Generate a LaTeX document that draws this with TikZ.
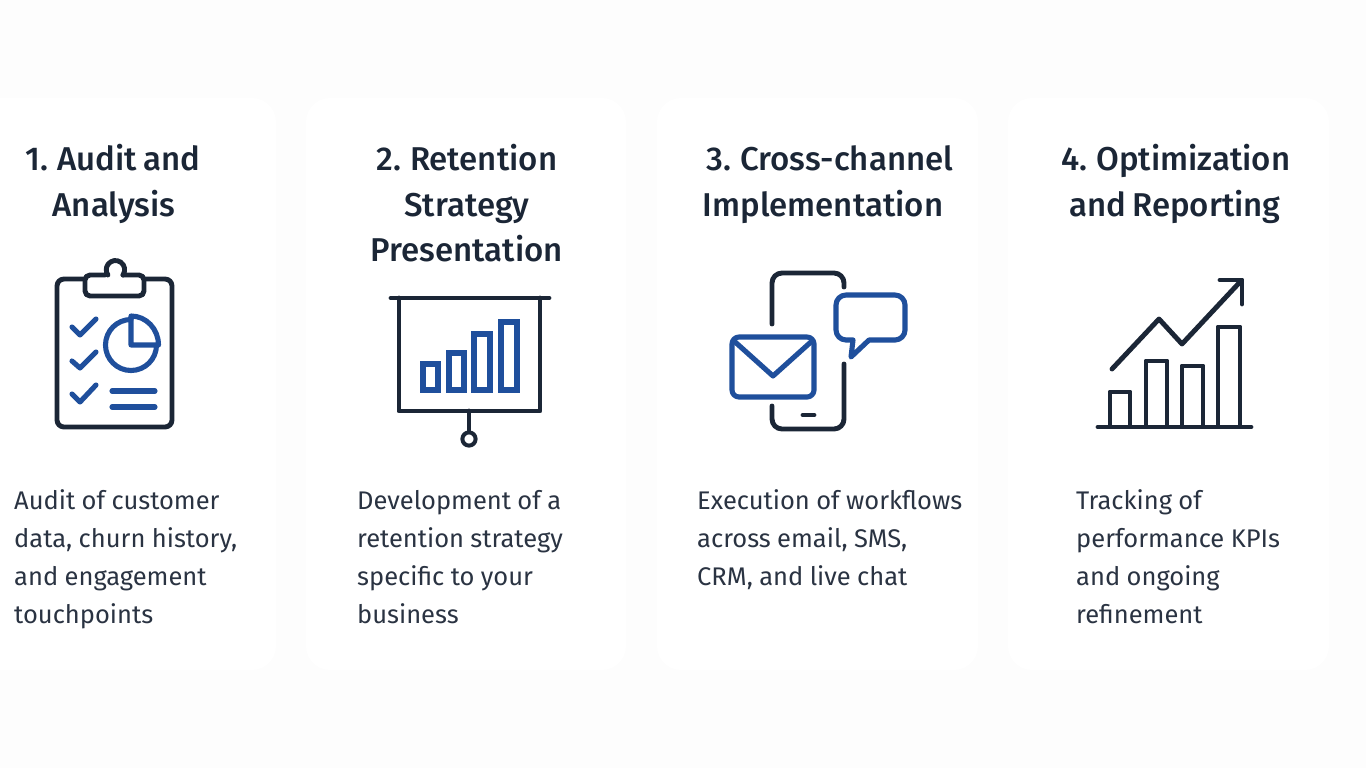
\documentclass[tikz,border=0pt]{standalone}
\usepackage{fontspec}
\setmainfont[WordSpace=0.95]{Fira Sans}
\newfontfamily\headfont[WordSpace=0.72]{Fira Sans Medium}
\definecolor{ink}{HTML}{1B2636}
\definecolor{blu}{HTML}{1F4F9C}
\definecolor{pagebg}{HTML}{FDFDFD}
\definecolor{bodytxt}{HTML}{2A3342}
\tikzset{
 card/.style={fill=white,rounded corners=24},
 head/.style={font=\headfont\fontsize{33}{45.5}\selectfont,text=ink,align=center,anchor=base,inner sep=0},
 bodyt/.style={font=\fontsize{25.5}{38.2}\selectfont,text=bodytxt,align=left,anchor=base west,inner sep=0},
 dk/.style={draw=ink,line width=4.9,line cap=round,line join=round},
 bl/.style={draw=blu,line width=5.1,line cap=round,line join=round},
}
\begin{document}
\begin{tikzpicture}[x=1pt,y=-1pt]
\useasboundingbox (0,0) rectangle (1366,768);
\fill[pagebg] (0,0) rectangle (1366,768);
\begin{scope}
\clip (0,0) rectangle (1366,768);
\fill[card] (-45,98) rectangle (276,670);
\fill[card] (306,98) rectangle (626,670);
\fill[card] (657,98) rectangle (978,670);
\fill[card] (1008,98) rectangle (1329,670);
\end{scope}
% headings
\node[head] (h1a) at (113,170) {1. Audit and};
\node[head] (h1b) at (114,216) {Analysis};
\node[head] (h2a) at (467,170) {2. Retention};
\node[head] (h2b) at (467,216) {Strategy};
\node[head] (h2c) at (467,261) {Presentation};
\node[head] (h3a) at (830,170) {3. Cross-channel};
\node[head] (h3b) at (823,216) {Implementation};
\node[head] (h4a) at (1176,170) {4. Optimization};
\node[head] (h4b) at (1175,216) {and Reporting};
% body
\node[bodyt] (b1a) at (14,509) {Audit of customer};
\node[bodyt] (b1b) at (14,547) {data, churn history,};
\node[bodyt] (b1c) at (14,585) {and engagement};
\node[bodyt] (b1d) at (14,623) {touchpoints};
\node[bodyt] (b2a) at (357,509) {Development of a};
\node[bodyt] (b2b) at (357,547) {retention strategy};
\node[bodyt] (b2c) at (357,585) {specific to your};
\node[bodyt] (b2d) at (357,623) {business};
\node[bodyt] (b3a) at (697,509) {Execution of workflows};
\node[bodyt] (b3b) at (697,547) {across email, SMS,};
\node[bodyt] (b3c) at (697,585) {CRM, and live chat};
\node[bodyt] (b4a) at (1076,509) {Tracking of};
\node[bodyt] (b4b) at (1076,547) {performance KPIs};
\node[bodyt] (b4c) at (1076,585) {and ongoing};
\node[bodyt] (b4d) at (1076,623) {refinement};
% clipboard
\draw[dk,rounded corners=7] (84,279) -- (57,279) -- (57,427) -- (172,427) -- (172,279) -- (144,279);
\draw[dk,rounded corners=5] (105,275) -- (85,275) -- (85,296) -- (144,296) -- (144,275) -- (123,275);
\draw[dk] (123,275) arc (35:-215:9.2);
\draw[bl] (72,327) -- (80,335) -- (96,319);
\draw[bl] (72,361) -- (80,368) -- (96,352);
\draw[bl] (72,394) -- (80,402) -- (96,385);
\draw[bl] (131,319.5) arc (-90:-360:25.5);
\draw[bl] (131,316) arc (-90:0:27.5 and 29) -- (131,345) -- cycle;
\draw[bl] (112,391) -- (155,391);
\draw[bl] (112,407) -- (155,407);
% presentation
\draw[dk] (391,298) -- (549,298);
\draw[dk] (399,298) -- (399,411) -- (540,411) -- (540,298);
\draw[dk] (469,411) -- (469,431);
\draw[dk,line width=4] (469,439) circle (6.6);
\draw[bl,line join=miter] (423,364) rectangle (438,390);
\draw[bl,line join=miter] (449,353) rectangle (464,390);
\draw[bl,line join=miter] (474,334) rectangle (490,390);
\draw[bl,line join=miter] (501,322) rectangle (517,390);
% phone
\draw[dk,rounded corners=10] (772,324) -- (772,273) -- (844,273) -- (844,287);
\draw[dk,rounded corners=10] (844,364) -- (844,429) -- (772,429) -- (772,406);
\draw[dk] (803,415) -- (814,415);
\draw[bl,rounded corners=7] (732,337) rectangle (814,397);
\draw[bl] (734,341) -- (773,376) -- (812,341);
\draw[bl] (853,340) [rounded corners=10] -- (836,340) -- (836,295) -- (905,295) -- (905,340) [rounded corners=0] -- (869,340) -- (851,357) -- (853,340);
% growth
\draw[dk] (1098,427) -- (1251,427);
\draw[dk,line cap=butt] (1110,427) -- (1110,392) -- (1130,392) -- (1130,427);
\draw[dk,line cap=butt] (1146,427) -- (1146,361) -- (1167,361) -- (1167,427);
\draw[dk,line cap=butt] (1182,427) -- (1182,366) -- (1203,366) -- (1203,427);
\draw[dk,line cap=butt] (1218,427) -- (1218,327) -- (1240,327) -- (1240,427);
\draw[dk] (1112,369) -- (1159,319) -- (1182,344) -- (1240,282);
\draw[dk] (1220,280) -- (1242,280) -- (1242,304);
\end{tikzpicture}
\end{document}
